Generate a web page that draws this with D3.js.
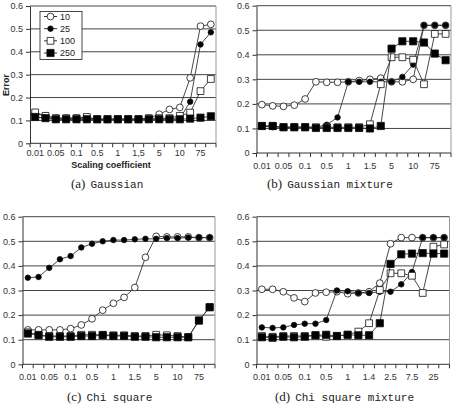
<!DOCTYPE html>
<html>
<head>
<meta charset="utf-8">
<script src="https://cdn.jsdelivr.net/npm/d3@7"></script>
<style>
  body { margin: 0; background: #fff; }
  svg { display: block; }
  .tick text { font-family: "Liberation Sans", Arial, sans-serif; font-size: 9px; fill: #333; }
</style>
</head>
<body>
<div id="chart"></div>
<script>
// legend names of the four series
const seriesNames = ["10", "25", "100", "250"];
const yTicks = [0, 0.1, 0.2, 0.3, 0.4, 0.5, 0.6];

// x tick labels (one label every other category)
const ticksA = ["0.01", "0.05", "0.1", "0.5", "1", "1,5", "5", "10", "75"];
const ticksB = ["0.01", "0.05", "0.1", "0.5", "1", "1.5", "5", "10", "75"];
const ticksC = ["0.01", "0.05", "0.1", "0.5", "1", "1.5", "5", "10", "75"];
const ticksD = ["0.01", "0.05", "0.1", "0.5", "1", "1.4", "2.5", "7.5", "25"];

// (a) Gaussian
const a10  = [0.13, 0.12, 0.11, 0.11, 0.11, 0.11, 0.105, 0.105, 0.105, 0.105, 0.105, 0.11, 0.127, 0.148, 0.157, 0.286, 0.512, 0.52];
const a25  = [0.115, 0.11, 0.105, 0.105, 0.105, 0.105, 0.105, 0.105, 0.105, 0.105, 0.105, 0.105, 0.105, 0.105, 0.108, 0.182, 0.432, 0.485];
const a100 = [0.135, 0.12, 0.11, 0.11, 0.11, 0.115, 0.105, 0.105, 0.105, 0.105, 0.105, 0.11, 0.11, 0.11, 0.12, 0.134, 0.228, 0.281];
const a250 = [0.115, 0.11, 0.105, 0.105, 0.105, 0.105, 0.105, 0.105, 0.105, 0.105, 0.105, 0.105, 0.105, 0.105, 0.105, 0.108, 0.112, 0.118];

// (b) Gaussian mixture
const b10  = [0.197, 0.192, 0.19, 0.195, 0.22, 0.29, 0.288, 0.288, 0.29, 0.295, 0.3, 0.305, 0.29, 0.29, 0.3, 0.52, 0.52, 0.52];
const b25  = [0.11, 0.105, 0.105, 0.105, 0.105, 0.105, 0.115, 0.145, 0.29, 0.29, 0.29, 0.29, 0.29, 0.31, 0.36, 0.52, 0.52, 0.52];
const b100 = [0.11, 0.11, 0.105, 0.105, 0.105, 0.105, 0.105, 0.105, 0.105, 0.105, 0.117, 0.28, 0.39, 0.39, 0.38, 0.28, 0.485, 0.485];
const b250 = [0.11, 0.11, 0.105, 0.105, 0.105, 0.102, 0.102, 0.102, 0.102, 0.102, 0.1, 0.11, 0.425, 0.455, 0.455, 0.45, 0.405, 0.378];

// (c) Chi square
const c10  = [0.14, 0.14, 0.14, 0.14, 0.145, 0.16, 0.185, 0.22, 0.248, 0.272, 0.312, 0.435, 0.52, 0.518, 0.518, 0.518, 0.515, 0.515];
const c25  = [0.352, 0.355, 0.392, 0.427, 0.44, 0.475, 0.49, 0.5, 0.505, 0.505, 0.508, 0.51, 0.51, 0.513, 0.513, 0.515, 0.515, 0.515];
const c100 = [0.13, 0.12, 0.115, 0.115, 0.115, 0.12, 0.12, 0.12, 0.118, 0.118, 0.115, 0.115, 0.12, 0.118, 0.115, 0.11, 0.178, 0.232];
const c250 = [0.125, 0.118, 0.112, 0.112, 0.112, 0.115, 0.115, 0.118, 0.115, 0.115, 0.112, 0.112, 0.11, 0.11, 0.11, 0.11, 0.178, 0.232];

// (d) Chi square mixture
const d10  = [0.305, 0.305, 0.295, 0.27, 0.255, 0.29, 0.293, 0.295, 0.287, 0.29, 0.295, 0.33, 0.49, 0.515, 0.515, 0.515, 0.515, 0.515];
const d25  = [0.15, 0.148, 0.15, 0.16, 0.165, 0.165, 0.18, 0.3, 0.297, 0.29, 0.29, 0.295, 0.295, 0.325, 0.375, 0.515, 0.515, 0.515];
const d100 = [0.115, 0.112, 0.115, 0.115, 0.115, 0.118, 0.112, 0.115, 0.12, 0.133, 0.167, 0.302, 0.37, 0.37, 0.36, 0.29, 0.478, 0.487];
const d250 = [0.11, 0.108, 0.112, 0.11, 0.112, 0.118, 0.12, 0.115, 0.12, 0.118, 0.118, 0.167, 0.408, 0.447, 0.45, 0.452, 0.45, 0.45];

const width = 455, height = 405;

const svg = d3.select("#chart")
  .append("svg")
  .attr("width", width)
  .attr("height", height)
  .attr("viewBox", [0, 0, width, height]);

const markers = [
  { shape: d3.symbolCircle, size: 36, fill: "#fff" },
  { shape: d3.symbolCircle, size: 24, fill: "#000" },
  { shape: d3.symbolSquare, size: 46, fill: "#fff" },
  { shape: d3.symbolSquare, size: 52, fill: "#000" }
];

function panel(p) {
  const g = svg.append("g");
  const n = p.series[0].length;

  let x = d3.scaleBand()
    .domain(d3.range(n))
    .range([p.left, p.right]);

  let y = d3.scaleLinear()
    .domain([0, 0.6])
    .range([p.bottom, p.top]);

  // gridlines + frame
  g.append("g")
    .selectAll("line")
    .data(yTicks.slice(1))
    .join("line")
    .attr("x1", p.left).attr("x2", p.right)
    .attr("y1", d => y(d)).attr("y2", d => y(d))
    .attr("stroke", "#444")
    .attr("stroke-width", 1);

  g.append("line")
    .attr("x1", p.right).attr("x2", p.right)
    .attr("y1", y(0.6)).attr("y2", y(0))
    .attr("stroke", "#999");

  // y axis
  g.append("g")
    .attr("transform", `translate(${p.left},0)`)
    .call(d3.axisLeft(y).tickValues(yTicks).tickSize(4).tickSizeOuter(0).tickFormat(d => d === 0 ? "0" : d3.format(".1f")(d)))
    .call(s => s.select(".domain").attr("stroke", "#333"))
    .call(s => s.selectAll(".tick line").attr("stroke", "#333"));

  // x axis: ticks on category boundaries, labels on every other category
  const xb = g.append("g")
    .attr("transform", `translate(0,${p.bottom})`);
  xb.append("line")
    .attr("x1", p.left).attr("x2", p.right)
    .attr("stroke", "#333");
  xb.selectAll(".xt")
    .data(d3.range(n + 1))
    .join("line")
    .attr("class", "xt")
    .attr("x1", i => p.left + i * x.step())
    .attr("x2", i => p.left + i * x.step())
    .attr("y1", 0).attr("y2", 4)
    .attr("stroke", "#333");
  xb.selectAll("text")
    .data(p.ticks)
    .join("text")
    .attr("x", (d, i) => x(i * 2) + x.bandwidth() / 2)
    .attr("y", p.labelY - p.bottom)
    .attr("text-anchor", "middle")
    .attr("font-family", "Liberation Sans, Arial, sans-serif")
    .attr("font-size", 9)
    .attr("fill", "#333")
    .text(d => d);

  // series lines and markers
  p.series.forEach((vals, k) => {
    const line = d3.line()
      .x((d, i) => x(i) + x.bandwidth() / 2)
      .y(d => y(d));
    g.append("path")
      .datum(vals)
      .attr("fill", "none")
      .attr("stroke", "#333")
      .attr("stroke-width", 0.9)
      .attr("d", line);
    g.append("g")
      .selectAll("path")
      .data(vals)
      .join("path")
      .attr("transform", (d, i) => `translate(${x(i) + x.bandwidth() / 2},${y(d)})`)
      .attr("d", d3.symbol(markers[k].shape, markers[k].size))
      .attr("fill", markers[k].fill)
      .attr("stroke", "#111")
      .attr("stroke-width", 0.8);
  });

  // caption
  const cap = svg.append("text")
    .attr("x", p.capX)
    .attr("y", p.capY)
    .attr("fill", "#222");
  cap.append("tspan")
    .attr("font-family", "Liberation Serif, serif")
    .attr("font-size", 13)
    .text(p.letter);
  cap.append("tspan")
    .attr("font-family", "Liberation Mono, monospace")
    .attr("font-size", 11)
    .attr("dx", 5)
    .text(p.caption);

  return { x, y };
}

panel({
  left: 30, right: 216, top: 6, bottom: 143.3, labelY: 156,
  ticks: ticksA, series: [a10, a25, a100, a250],
  letter: "(a)", caption: "Gaussian", capX: 71, capY: 188
});

panel({
  left: 256.5, right: 451, top: 5.7, bottom: 153, labelY: 169,
  ticks: ticksB, series: [b10, b25, b100, b250],
  letter: "(b)", caption: "Gaussian mixture", capX: 267, capY: 188
});

panel({
  left: 22.5, right: 215, top: 216.7, bottom: 364.3, labelY: 380,
  ticks: ticksC, series: [c10, c25, c100, c250],
  letter: "(c)", caption: "Chi square", capX: 67, capY: 401
});

panel({
  left: 256.5, right: 449.5, top: 216.7, bottom: 364.3, labelY: 380,
  ticks: ticksD, series: [d10, d25, d100, d250],
  letter: "(d)", caption: "Chi square mixture", capX: 275, capY: 401
});

// axis titles of panel (a)
svg.append("text")
  .attr("transform", "translate(9,85) rotate(-90)")
  .attr("text-anchor", "middle")
  .attr("font-family", "Liberation Sans, Arial, sans-serif")
  .attr("font-size", 9)
  .attr("font-weight", "bold")
  .attr("fill", "#222")
  .text("Error");

svg.append("text")
  .attr("x", 111)
  .attr("y", 167.5)
  .attr("text-anchor", "middle")
  .attr("font-family", "Liberation Sans, Arial, sans-serif")
  .attr("font-size", 9)
  .attr("font-weight", "bold")
  .attr("fill", "#222")
  .text("Scaling coefficient");

// legend of panel (a)
const leg = svg.append("g");
leg.append("rect")
  .attr("x", 40).attr("y", 11.5)
  .attr("width", 42).attr("height", 48)
  .attr("fill", "#fff")
  .attr("stroke", "#333")
  .attr("stroke-width", 0.9);

const legY = d3.scalePoint()
  .domain(seriesNames)
  .range([16.5, 53]);

seriesNames.forEach((name, k) => {
  leg.append("line")
    .attr("x1", 44).attr("x2", 57)
    .attr("y1", legY(name)).attr("y2", legY(name))
    .attr("stroke", "#333");
  leg.append("path")
    .attr("transform", `translate(50.5,${legY(name)})`)
    .attr("d", d3.symbol(markers[k].shape, markers[k].size))
    .attr("fill", markers[k].fill)
    .attr("stroke", "#111")
    .attr("stroke-width", 0.8);
  leg.append("text")
    .attr("x", 60)
    .attr("y", legY(name) + 3.3)
    .attr("font-family", "Liberation Sans, Arial, sans-serif")
    .attr("font-size", 9)
    .attr("fill", "#222")
    .text(name);
});
</script>
</body>
</html>
